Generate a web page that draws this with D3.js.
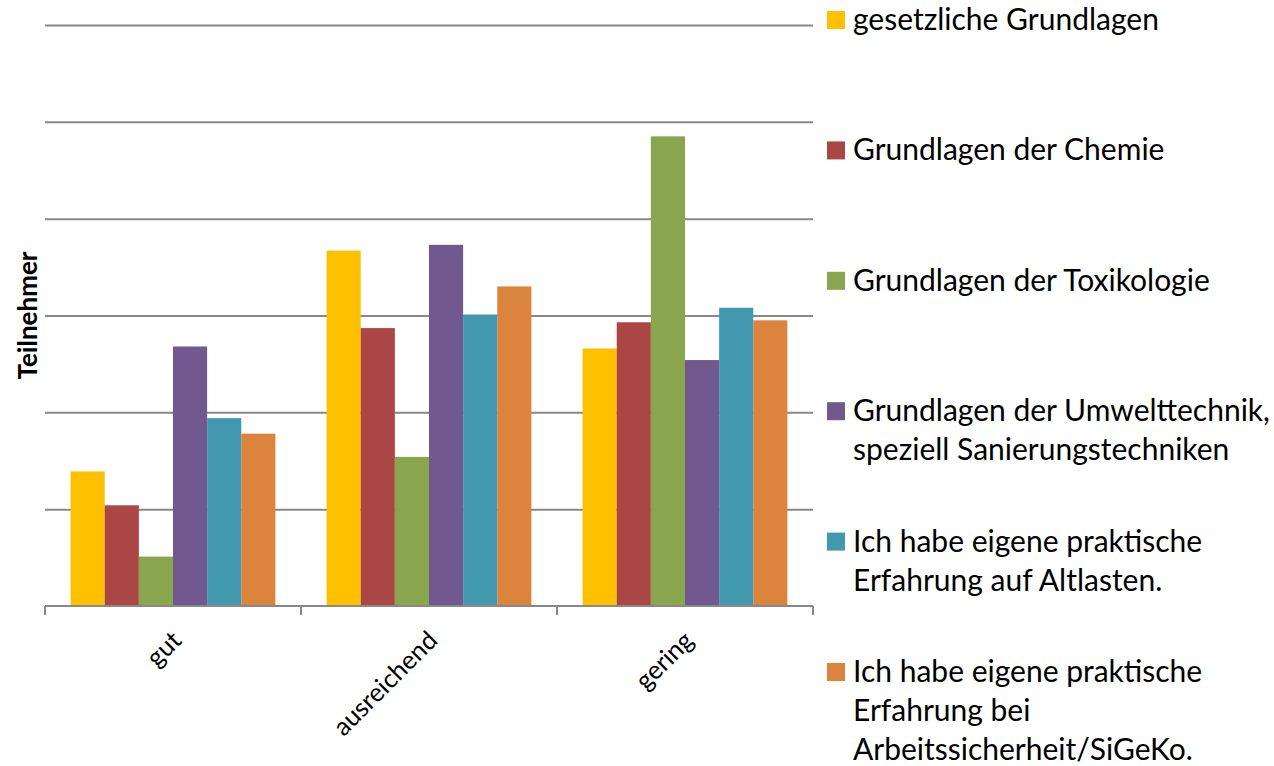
<!DOCTYPE html>
<html>
<head>
<meta charset="utf-8">
<script src="https://cdn.jsdelivr.net/npm/d3@7"></script>
<style>
  body { margin: 0; background: #fff; }
  svg { display: block; font-family: Lato, "Open Sans", sans-serif; }
  .grid line { stroke: #888; stroke-width: 2; }
  .grid path { display: none; }
</style>
</head>
<body>
<svg width="1274" height="766"></svg>
<script>
// categories on the x axis
let categories = ["gut", "ausreichend", "gering"];

// one series per topic (one gridline = 10)
let seriesNames = [
    "gesetzliche Grundlagen",
    "Grundlagen der Chemie",
    "Grundlagen der Toxikologie",
    "Grundlagen der Umwelttechnik, speziell Sanierungstechniken",
    "Ich habe eigene praktische Erfahrung auf Altlasten.",
    "Ich habe eigene praktische Erfahrung bei Arbeitssicherheit/SiGeKo."
];
let gesetzlich = [13.9, 36.7, 26.6];
let chemie = [10.4, 28.7, 29.3];
let toxikologie = [5.1, 15.4, 48.5];
let umwelttechnik = [26.8, 37.3, 25.4];
let altlasten = [19.4, 30.1, 30.8];
let sigeko = [17.8, 33.0, 29.5];

// legend text as it wraps in the picture
let legendLines = [
    ["gesetzliche Grundlagen"],
    ["Grundlagen der Chemie"],
    ["Grundlagen der Toxikologie"],
    ["Grundlagen der Umwelttechnik,", "speziell Sanierungstechniken"],
    ["Ich habe eigene praktische", "Erfahrung auf Altlasten."],
    ["Ich habe eigene praktische", "Erfahrung bei", "Arbeitssicherheit/SiGeKo."]
];
let colors = ["#FFC000", "#AA4643", "#89A54E", "#71588F", "#4198AF", "#DB843D"];
let yTicks = [0, 10, 20, 30, 40, 50, 60];
let yLabel = "Teilnehmer";

let values = [gesetzlich, chemie, toxikologie, umwelttechnik, altlasten, sigeko];
let data = categories.map((c, ci) => ({
    category: c,
    bars: seriesNames.map((s, si) => ({ series: s, value: values[si][ci] }))
}));

const svg = d3.select("svg"),
    margin = { top: 25, right: 461, bottom: 160, left: 45 },
    width = 1274 - margin.left - margin.right,
    height = 766 - margin.top - margin.bottom;

let x0 = d3.scaleBand().domain(categories).range([0, width]).padding(0);
let x1 = d3.scaleBand().domain(seriesNames).range([0, x0.bandwidth()])
    .paddingInner(0).paddingOuter(0.75);
let y = d3.scaleLinear().domain([0, 60]).range([height, 0]);
let color = d3.scaleOrdinal().domain(seriesNames).range(colors);

let g = svg.append("g")
    .attr("transform", "translate(" + margin.left + "," + margin.top + ")");

// horizontal gridlines
g.append("g")
    .attr("class", "grid")
    .call(d3.axisLeft(y).tickValues(yTicks.slice(1)).tickSize(-width).tickFormat(""));

// bars
g.selectAll(".cat")
    .data(data)
    .enter().append("g")
    .attr("class", "cat")
    .attr("transform", d => "translate(" + x0(d.category) + ",0)")
    .selectAll("rect")
    .data(d => d.bars)
    .enter().append("rect")
    .attr("x", d => x1(d.series))
    .attr("width", x1.bandwidth())
    .attr("y", d => y(d.value))
    .attr("height", d => height - y(d.value))
    .attr("fill", d => color(d.series));

// x axis with ticks between categories
let xAxis = g.append("g").attr("transform", "translate(0," + height + ")");
xAxis.append("line")
    .attr("x1", 0).attr("x2", width)
    .attr("stroke", "#888").attr("stroke-width", 2);
xAxis.selectAll(".sep")
    .data(categories.concat(["end"]))
    .enter().append("line")
    .attr("x1", (d, i) => i * x0.step())
    .attr("x2", (d, i) => i * x0.step())
    .attr("y1", 0).attr("y2", 9)
    .attr("stroke", "#888").attr("stroke-width", 2);
xAxis.selectAll(".lbl")
    .data(categories)
    .enter().append("text")
    .attr("transform", d => "translate(" + (x0(d) + x0.bandwidth() / 2 + 10) + ",36) rotate(-45)")
    .attr("text-anchor", "end")
    .attr("font-size", 25.5)
    .attr("fill", "#000")
    .text(d => d);

// y label
svg.append("text")
    .attr("transform", "translate(37," + (margin.top + height / 2) + ") rotate(-90)")
    .attr("text-anchor", "middle")
    .attr("font-size", 26)
    .attr("font-weight", "bold")
    .text(yLabel);

// legend
let legend = svg.append("g").attr("transform", "translate(827,0)");
let item = legend.selectAll(".item")
    .data(seriesNames)
    .enter().append("g")
    .attr("transform", (d, i) => "translate(0," + (20 + i * 130.4) + ")");
item.append("rect")
    .attr("x", 0).attr("y", -9)
    .attr("width", 18).attr("height", 18)
    .attr("fill", d => color(d));
item.append("text")
    .attr("x", 26)
    .attr("font-size", 30)
    .attr("fill", "#000")
    .selectAll("tspan")
    .data((d, i) => legendLines[i])
    .enter().append("tspan")
    .attr("x", 26)
    .attr("y", (d, j) => 10 + j * 39)
    .text(d => d);
</script>
</body>
</html>
